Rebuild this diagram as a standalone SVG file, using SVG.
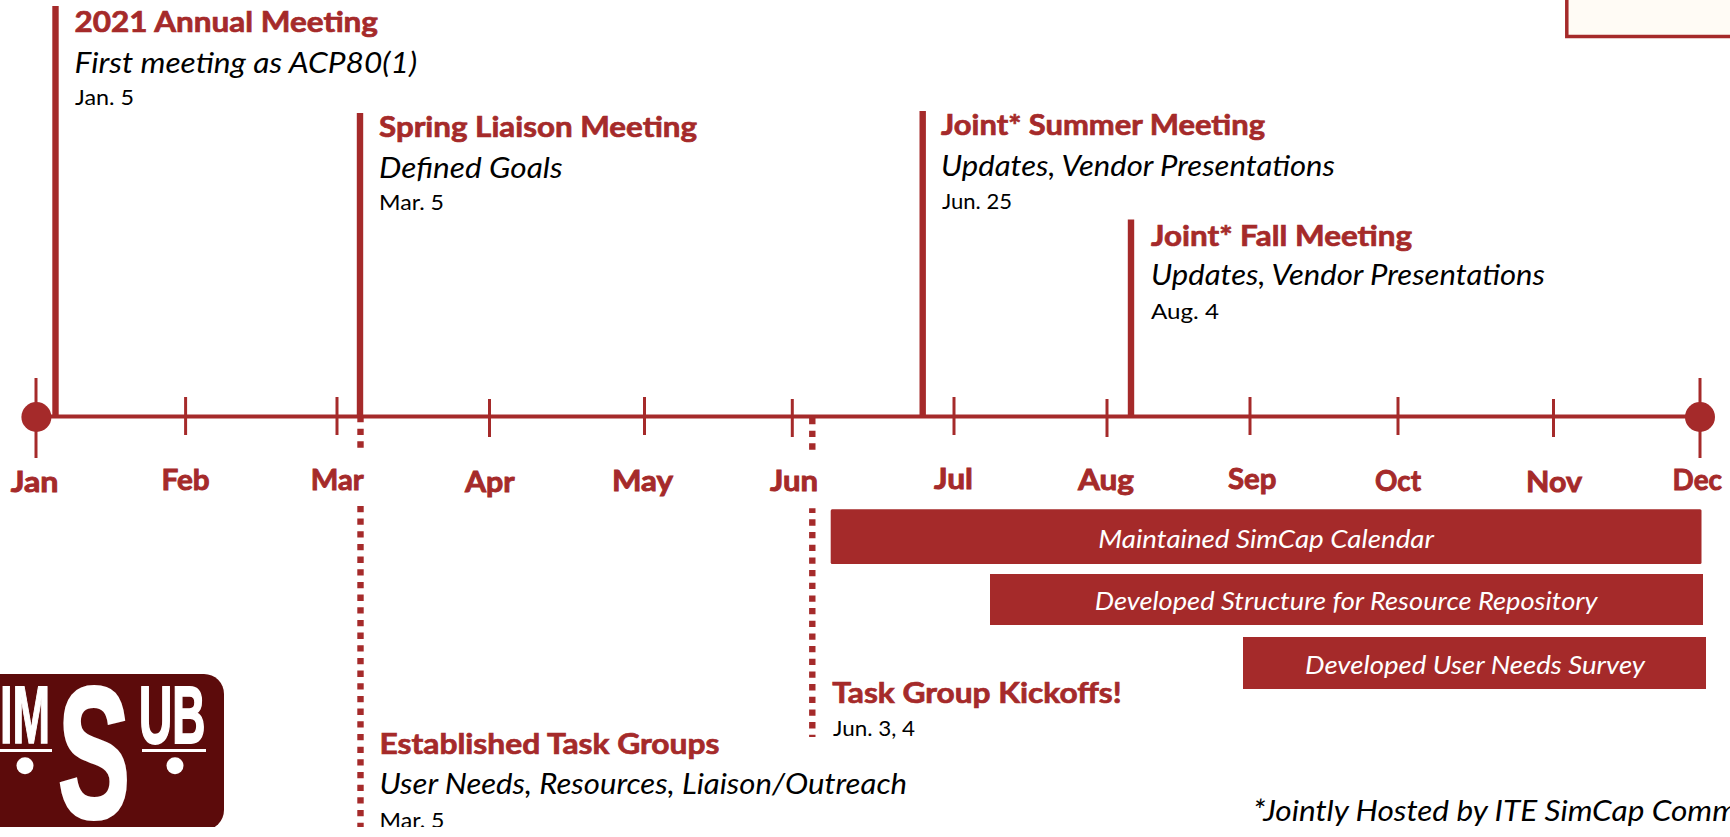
<svg xmlns="http://www.w3.org/2000/svg" width="1730" height="837" viewBox="0 0 1730 837">
<style>
text{font-family:"Lato","Open Sans","Liberation Sans",sans-serif}
.h{font-size:29px;font-weight:700;fill:#A52A2A;stroke:#A52A2A;stroke-width:.7px}
.i{font-size:28px;font-style:italic;fill:#000}
.d{font-size:21px;fill:#000}
.m{font-size:29px;font-weight:700;fill:#A52A2A;stroke:#A52A2A;stroke-width:.9px}
.b{font-size:26px;font-style:italic;fill:#fff}
.bar{fill:#A52A2A}
.tick{stroke:#A52A2A;stroke-width:3;fill:none}
.axis{stroke:#A52A2A;stroke-width:4;fill:none}
.stem{stroke:#A52A2A;stroke-width:6.4;fill:none}
.dot{stroke:#A52A2A;stroke-width:6.4;fill:none;stroke-dasharray:6.3 6.37}
.dotc{fill:#A52A2A}
.lg{font-family:"Liberation Sans",sans-serif;font-weight:700;fill:#fff;stroke:#fff}
</style>
<rect width="1730" height="837" fill="#fff"/>
<g id="legend-box"><rect x="1566.8" y="-6" width="175" height="42.5" fill="#FFFBF5" stroke="#A52A2A" stroke-width="3.5"/></g>
<g id="connectors">
<line class="axis" x1="36" y1="416.5" x2="1700" y2="416.5"/>
<line class="stem" x1="55.5" y1="6" x2="55.5" y2="416"/>
<line class="stem" x1="360" y1="113" x2="360" y2="416"/>
<line class="stem" x1="922.7" y1="111" x2="922.7" y2="416"/>
<line class="stem" x1="1131" y1="219.5" x2="1131" y2="416"/>
<line class="tick" x1="36" y1="378" x2="36" y2="458"/>
<line class="tick" x1="185.6" y1="397" x2="185.6" y2="435"/>
<line class="tick" x1="337" y1="397" x2="337" y2="435"/>
<line class="tick" x1="489.5" y1="399" x2="489.5" y2="437"/>
<line class="tick" x1="644.5" y1="397" x2="644.5" y2="435"/>
<line class="tick" x1="792.3" y1="399" x2="792.3" y2="437"/>
<line class="tick" x1="954" y1="397" x2="954" y2="435"/>
<line class="tick" x1="1107" y1="399" x2="1107" y2="437"/>
<line class="tick" x1="1250" y1="397" x2="1250" y2="435"/>
<line class="tick" x1="1398" y1="397" x2="1398" y2="435"/>
<line class="tick" x1="1553.5" y1="399" x2="1553.5" y2="437"/>
<line class="tick" x1="1700" y1="378" x2="1700" y2="458"/>
<line class="dot" x1="360.5" y1="416" x2="360.5" y2="450"/>
<line class="dot" x1="360.5" y1="505.9" x2="360.5" y2="827"/>
<line class="dot" x1="812.3" y1="418" x2="812.3" y2="450"/>
<line class="dot" x1="812.3" y1="508.3" x2="812.3" y2="737" stroke-dashoffset="1.6"/>
<circle class="dotc" cx="36.4" cy="417" r="15"/>
<circle class="dotc" cx="1700" cy="417" r="15"/>
</g>
<g id="month-labels">
<text class="m" x="10.7" y="491.7" textLength="47.8" lengthAdjust="spacingAndGlyphs">Jan</text>
<text class="m" x="161.5" y="490" textLength="48.2" lengthAdjust="spacingAndGlyphs">Feb</text>
<text class="m" x="310.7" y="490" textLength="52.9" lengthAdjust="spacingAndGlyphs">Mar</text>
<text class="m" x="465" y="492.3" textLength="49.7" lengthAdjust="spacingAndGlyphs">Apr</text>
<text class="m" x="612" y="491" textLength="61" lengthAdjust="spacingAndGlyphs">May</text>
<text class="m" x="770" y="490.7" textLength="48" lengthAdjust="spacingAndGlyphs">Jun</text>
<text class="m" x="934" y="489.3" textLength="39" lengthAdjust="spacingAndGlyphs">Jul</text>
<text class="m" x="1078" y="489.5" textLength="56" lengthAdjust="spacingAndGlyphs">Aug</text>
<text class="m" x="1228" y="489" textLength="48.5" lengthAdjust="spacingAndGlyphs">Sep</text>
<text class="m" x="1375" y="491" textLength="46" lengthAdjust="spacingAndGlyphs">Oct</text>
<text class="m" x="1526" y="492" textLength="56" lengthAdjust="spacingAndGlyphs">Nov</text>
<text class="m" x="1672.6" y="490" textLength="49.4" lengthAdjust="spacingAndGlyphs">Dec</text>
</g>
<g id="annual-meeting">
<text class="h" x="74.6" y="31.7" textLength="303.4" lengthAdjust="spacingAndGlyphs">2021 Annual Meeting</text>
<text class="i" x="74.6" y="72.7" textLength="342.5" lengthAdjust="spacingAndGlyphs">First meeting as ACP80(1)</text>
<text class="d" x="75" y="105" textLength="59" lengthAdjust="spacingAndGlyphs">Jan. 5</text>
</g>
<g id="spring-liaison">
<text class="h" x="379" y="136.7" textLength="318" lengthAdjust="spacingAndGlyphs">Spring Liaison Meeting</text>
<text class="i" x="379" y="177.7" textLength="183.6" lengthAdjust="spacingAndGlyphs">Defined Goals</text>
<text class="d" x="379" y="210" textLength="65" lengthAdjust="spacingAndGlyphs">Mar. 5</text>
</g>
<g id="summer-meeting">
<text class="h" x="941" y="135" textLength="324" lengthAdjust="spacingAndGlyphs">Joint* Summer Meeting</text>
<text class="i" x="941" y="176" textLength="394" lengthAdjust="spacingAndGlyphs">Updates, Vendor Presentations</text>
<text class="d" x="942" y="208.5" textLength="70" lengthAdjust="spacingAndGlyphs">Jun. 25</text>
</g>
<g id="fall-meeting">
<text class="h" x="1151" y="246" textLength="261" lengthAdjust="spacingAndGlyphs">Joint* Fall Meeting</text>
<text class="i" x="1151" y="284.6" textLength="394" lengthAdjust="spacingAndGlyphs">Updates, Vendor Presentations</text>
<text class="d" x="1151" y="319" textLength="68" lengthAdjust="spacingAndGlyphs">Aug. 4</text>
</g>
<g id="bar-calendar">
<rect class="bar" x="830.7" y="509.3" width="870.8" height="54.7" rx="1.5"/>
<text class="b" x="1098.3" y="547.5" textLength="335.7" lengthAdjust="spacingAndGlyphs">Maintained SimCap Calendar</text>
</g>
<g id="bar-repository">
<rect class="bar" x="990" y="574" width="713" height="51"/>
<text class="b" x="1094.7" y="610" textLength="503" lengthAdjust="spacingAndGlyphs">Developed Structure for Resource Repository</text>
</g>
<g id="bar-survey">
<rect class="bar" x="1243" y="637" width="463" height="52"/>
<text class="b" x="1305" y="674" textLength="340" lengthAdjust="spacingAndGlyphs">Developed User Needs Survey</text>
</g>
<g id="task-kickoffs">
<text class="h" x="832.3" y="703.3" textLength="289.4" lengthAdjust="spacingAndGlyphs">Task Group Kickoffs!</text>
<text class="d" x="833" y="736" textLength="82" lengthAdjust="spacingAndGlyphs">Jun. 3, 4</text>
</g>
<g id="task-groups">
<text class="h" x="379.5" y="753.5" textLength="340" lengthAdjust="spacingAndGlyphs">Established Task Groups</text>
<text class="i" x="379.5" y="794" textLength="527.5" lengthAdjust="spacingAndGlyphs">User Needs, Resources, Liaison/Outreach</text>
<text class="d" x="379.5" y="828" textLength="65" lengthAdjust="spacingAndGlyphs">Mar. 5</text>
</g>
<g id="footnote">
<text class="i" x="1253" y="821" textLength="484" lengthAdjust="spacingAndGlyphs">*Jointly Hosted by ITE SimCap Comm</text>
</g>
<g id="logo">
<rect x="-30" y="674" width="254" height="156" rx="20" fill="#5C0B0B"/>
<text class="lg" transform="translate(0,743) scale(.55,1)" font-size="82" stroke-width="1.5">IM</text>
<text class="lg" transform="translate(139,743) scale(.56,1)" font-size="82" stroke-width="2">UB</text>
<text class="lg" transform="translate(58,817) scale(.58,1)" font-size="186" stroke-width="4">S</text>
<rect x="0" y="749" width="52" height="3" fill="#fff"/>
<rect x="142" y="749" width="64" height="3" fill="#fff"/>
<circle cx="25" cy="765.7" r="8.5" fill="#fff"/>
<circle cx="175" cy="765.7" r="8.5" fill="#fff"/>
</g>
<rect x="0" y="827" width="1730" height="10" fill="#fff"/>
</svg>
